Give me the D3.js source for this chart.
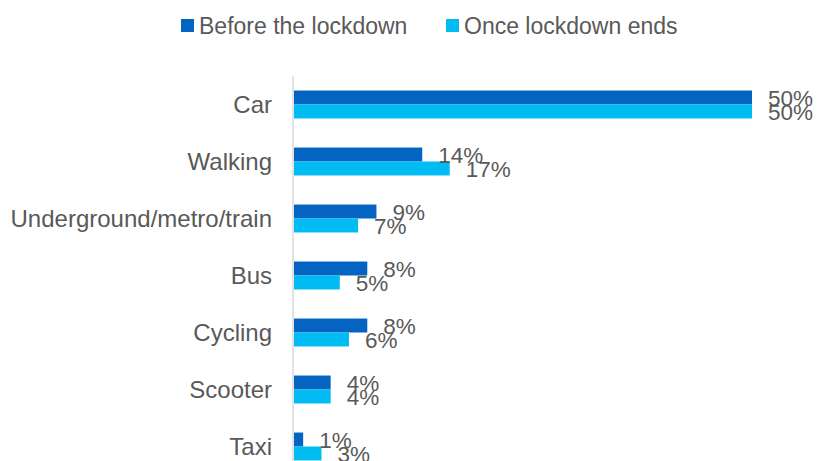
<!DOCTYPE html>
<html>
<head>
<meta charset="utf-8">
<script src="https://cdn.jsdelivr.net/npm/d3@7"></script>
<style>
  html, body { margin: 0; padding: 0; background: #ffffff; }
  svg { display: block; font-family: "Liberation Sans", Arial, sans-serif; }
</style>
</head>
<body>
<svg id="chart" width="820" height="461"></svg>
<script>
// Travel mode shares, in percent
const categories = ["Car", "Walking ", "Underground/metro/train", "Bus", "Cycling", "Scooter", "Taxi"];
const seriesNames = ["Before the lockdown", "Once lockdown ends"];
const beforeValues = [50, 14, 9, 8, 8, 4, 1];
const afterValues = [50, 17, 7, 5, 6, 4, 3];
const seriesColors = ["#0563C1", "#00BCF2"];

const svg = d3.select("#chart");
const textColor = "#595959";

const plot = { left: 294, top: 76, width: 458, height: 399 };

const y = d3.scaleBand()
  .domain(categories)
  .range([plot.top, plot.top + plot.height])
  .paddingInner(0.51)
  .paddingOuter(0.255);

const x = d3.scaleLinear()
  .domain([0, 50])
  .range([plot.left, plot.left + plot.width]);

const sub = d3.scaleBand()
  .domain([0, 1])
  .range([0, y.bandwidth()]);

// Category axis line
svg.append("line")
  .attr("x1", plot.left - 1).attr("x2", plot.left - 1)
  .attr("y1", plot.top).attr("y2", plot.top + plot.height)
  .attr("stroke", "#D9D9D9").attr("stroke-width", 1.5);

// Category labels
const yAxis = d3.axisLeft(y).tickSize(0).tickPadding(22);
const gAxis = svg.append("g")
  .attr("transform", `translate(${plot.left},0)`)
  .call(yAxis);
gAxis.select(".domain").remove();
gAxis.selectAll("text")
  .attr("fill", textColor)
  .style("font-size", "24px")
  .style("font-family", "'Liberation Sans', Arial, sans-serif")
  .attr("dy", "0.35em");

const rows = categories.map((c, i) => ({ cat: c, vals: [beforeValues[i], afterValues[i]] }));

const groups = svg.append("g").selectAll("g")
  .data(rows)
  .join("g")
  .attr("transform", d => `translate(0,${y(d.cat)})`);

groups.selectAll("rect")
  .data(d => d.vals.map((v, k) => ({ v, k })))
  .join("rect")
  .attr("x", x(0))
  .attr("y", d => sub(d.k))
  .attr("width", d => x(d.v) - x(0))
  .attr("height", sub.bandwidth())
  .attr("fill", d => seriesColors[d.k]);

groups.selectAll("text.val")
  .data(d => d.vals.map((v, k) => ({ v, k })))
  .join("text")
  .attr("class", "val")
  .attr("x", d => x(d.v) + 16)
  .attr("y", d => sub(d.k) + sub.bandwidth() / 2)
  .attr("dy", "0.36em")
  .attr("fill", textColor)
  .style("font-size", "22.5px")
  .text(d => d.v + "%");

// Legend
const legendItems = [
  { name: seriesNames[0], color: seriesColors[0], x: 181 },
  { name: seriesNames[1], color: seriesColors[1], x: 446 }
];
const legend = svg.append("g").selectAll("g")
  .data(legendItems)
  .join("g")
  .attr("transform", d => `translate(${d.x},19)`);
legend.append("rect")
  .attr("width", 13).attr("height", 13)
  .attr("fill", d => d.color);
legend.append("text")
  .attr("x", 18).attr("y", 6.5)
  .attr("dy", "0.36em")
  .attr("fill", textColor)
  .style("font-size", "23px")
  .text(d => d.name);
</script>
</body>
</html>
